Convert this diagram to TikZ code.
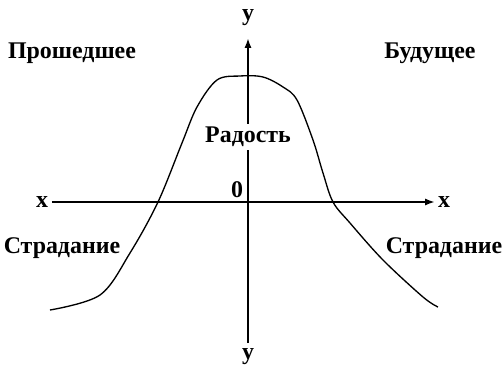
\documentclass[tikz,border=0pt]{standalone}
\usepackage{fontspec}
\setmainfont{Liberation Serif}
\usetikzlibrary{arrows.meta,positioning}
\tikzset{
  lbl/.style={font=\fontsize{17}{19}\selectfont\bfseries, inner sep=2pt},
  axis/.style={-{Latex[length=7pt,width=5pt]}, line width=1.3pt},
  mood/.style={line width=0.95pt, smooth, tension=0.55},
}
\begin{document}
\begin{tikzpicture}
    \useasboundingbox (-6.2,-4.125) rectangle (6.375,5.05);
    % axes
    \coordinate (xl) at (-4.9,0);
    \coordinate (xr) at (4.675,0);
    \coordinate (yb) at (0,-3.525);
    \coordinate (yt) at (0,4.1);
    \draw[axis] (xl) -- (xr);
    \draw[axis] (yb) -- (yt);
    \node[lbl] (xlbl) at (-5.15,0) {x};
    \node[lbl] (xrbl) at (4.9,0) {x};
    \node[lbl] (ytop) at (0,4.6) {y};
    \node[lbl] (ybot) at (0,-3.875) {y};
    \node[lbl] (zero) at (-0.27,0.3) {0};
    % curve
    \draw[mood] plot coordinates {(-4.95,-2.7) (-3.7,-2.325) (-2.95,-1.275) (-2.25,0)
      (-1.65,1.475) (-1.275,2.375) (-0.775,3.05) (-0.2,3.15) (0.375,3.125)
      (0.875,2.875) (1.225,2.55) (1.625,1.55) (1.875,0.725) (2.125,0)
      (2.55,-0.525) (3.375,-1.45) (4.375,-2.375) (4.75,-2.625)};
    % labels
    \node[lbl,fill=white] (joy) at (0,1.625) {Радость};
    \node[lbl] (past) at (-4.4,3.725) {Прошедшее};
    \node[lbl] (future) at (4.55,3.725) {Будущее};
    \node[lbl] (sufl) at (-4.65,-1.15) {Страдание};
    \node[lbl] (sufr) at (4.9,-1.15) {Страдание};
\end{tikzpicture}
\end{document}
